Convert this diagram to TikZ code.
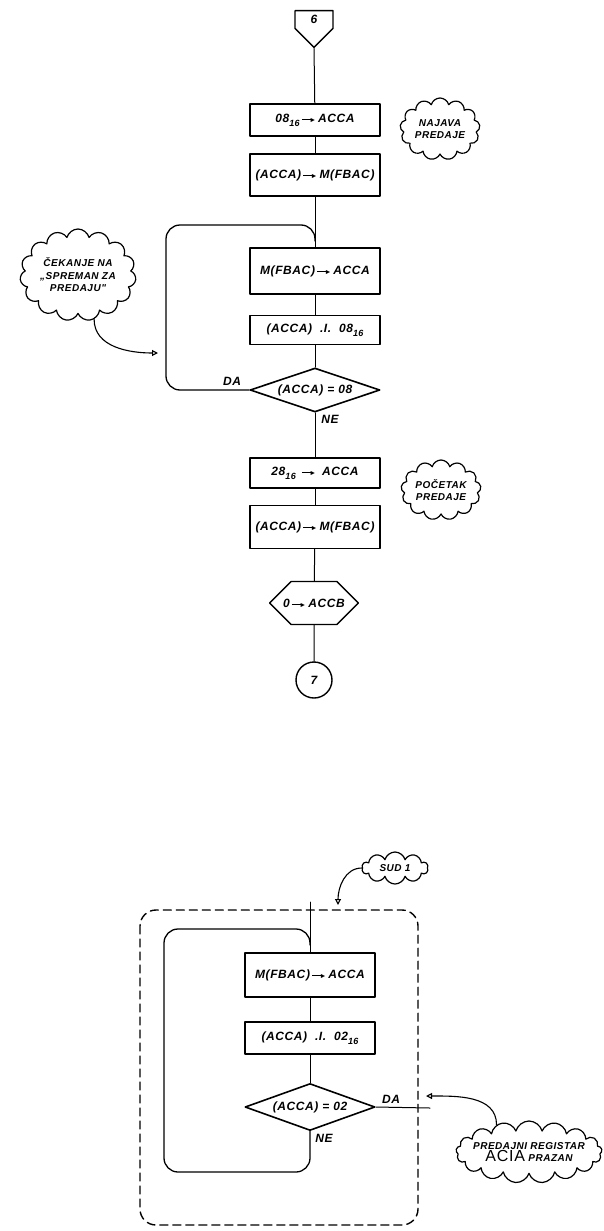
\documentclass[tikz,border=0pt]{standalone}
\usepackage{fontspec}
\setmainfont{Liberation Sans}
\newfontfamily\chartfont[LetterSpace=5]{Liberation Sans}
\usetikzlibrary{shapes.geometric,shapes.symbols,arrows.meta}
\newcommand{\hexsub}[1]{\raisebox{-4pt}{\fontsize{9}{9}\selectfont #1}}
\newcommand{\goesto}{\,\raisebox{0.33ex}{\rule{9pt}{1.1pt}}\kern-1.5pt{\fontsize{7}{7}\selectfont ►}\,}

\begin{document}
\begin{tikzpicture}[x=1pt,y=-1pt,line join=round,line cap=round,
    font=\chartfont\fontsize{12}{14}\selectfont\bfseries\itshape,
    box/.style={draw,line width=1.4pt,minimum width=130pt,inner sep=2pt},
    test/.style={draw,diamond,line width=1.6pt,minimum width=130pt,minimum height=44pt,aspect=3,inner sep=0pt},
    note/.style={draw,cloud,cloud ignores aspect,cloud puffs=13,line width=1.2pt,inner sep=0pt,align=center,
      font=\chartfont\fontsize{10}{12.5}\selectfont\bfseries\itshape},
    flow/.style={line width=1pt},
    back/.style={line width=1.3pt,rounded corners=14pt},
    hint/.style={line width=1.1pt,-{Triangle[open,length=6pt,width=6pt]}},
    frame/.style={dash pattern=on 8pt off 5pt,line width=1.4pt,rounded corners=16pt}]

  % Page
  \useasboundingbox (0,0) rectangle (603,1231);

  % Upper chart: connector, boxes, decision
  \node[draw,signal,signal to=south,signal from=nowhere,line width=1.4pt,
    minimum width=38pt,minimum height=21pt,inner sep=0pt,anchor=north] (c6) at (314,10) {6};
  \node[box,minimum height=32pt] (b1) at (315,120) {08\hexsub{16}\goesto ACCA};
  \node[box,minimum height=42pt] (b2) at (315,175) {(ACCA)\goesto M(FBAC)};
  \node[box,minimum height=46pt] (b3) at (315,271) {M(FBAC)\goesto ACCA};
  \node[box,minimum height=29pt] (b4) at (315,330) {(ACCA)\ \ .I.\ \ 08\hexsub{16}};
  \node[test] (d1) at (315,390) {(ACCA) = 08};
  \node[box,minimum height=30pt] (b5) at (315,473) {28\hexsub{16}\ \goesto\ ACCA};
  \node[box,minimum height=43pt] (b6) at (315,527) {(ACCA)\goesto M(FBAC)};
  \node[draw,signal,signal to=west and east,line width=1.4pt,
    minimum width=88pt,minimum height=43pt,inner xsep=-8pt,inner ysep=0pt] (h1) at (314,603) {0\goesto ACCB};
  \node[draw,circle,line width=1.4pt,minimum size=36pt,inner sep=0pt] (c7) at (314,680) {7};

  % Branch labels
  \node (da1) at (232,381) {DA};
  \node (ne1) at (330,419) {NE};

  % Notes
  \node[note,inner sep=-3pt,minimum width=80pt,minimum height=62pt] (n1) at (440,129) {NAJAVA\\PREDAJE};
  \node[note,cloud puffs=15,inner sep=-6pt,minimum width=116pt,minimum height=92pt] (n2) at (78,275) {ČEKANJE NA\\„SPREMAN ZA\\PREDAJU"};
  \node[note,inner sep=-3pt,minimum width=80pt,minimum height=60pt] (n3) at (441,490) {POČETAK\\PREDAJE};

  % Flow lines
  \coordinate (j1) at (315,225);
  \coordinate (l1) at (166,225);
  \coordinate (t1) at (158,353);
  \draw[flow] (c6.south) -- (b1);
  \draw[flow] (b1) -- (b2);
  \draw[flow] (b2) -- (b3);
  \draw[flow] (b3) -- (b4);
  \draw[flow] (b4) -- (d1);
  \draw[flow] (d1) -- (b5);
  \draw[flow] (b5) -- (b6);
  \draw[flow] (b6) -- (h1);
  \draw[flow] (h1) -- (c7);
  \draw[back] (d1.west) -| (l1) -- (j1) -- ++(0,16);
  \draw[hint] (n2.290) to[out=-90,in=180] (t1);

  % Lower chart: waiting loop
  \coordinate (top2) at (310,902);
  \node[box,minimum height=44pt] (b7) at (310,975) {M(FBAC)\goesto ACCA};
  \node[box,minimum height=32pt] (b8) at (310,1038) {(ACCA)\ \ .I.\ \ 02\hexsub{16}};
  \node[test,minimum height=47pt] (d2) at (310,1107) {(ACCA) = 02};
  \node (da2) at (391,1099) {DA};
  \node (ne2) at (324,1138) {NE};

  \node[note,cloud puffs=10,minimum width=66pt,minimum height=32pt] (n4) at (395,868) {SUD 1};
  \node[note,cloud puffs=17,inner sep=-6pt,minimum width=146pt,minimum height=62pt] (n5) at (529,1152)
    {PREDAJNI REGISTAR\\{\fontsize{16}{16}\selectfont\mdseries\upshape ACIA} PRAZAN};

  \coordinate (j2) at (310,929);
  \coordinate (l2) at (164,929);
  \coordinate (r2) at (310,1172);
  \coordinate (e2) at (430,1108);
  \coordinate (t2) at (338,905);
  \coordinate (t3) at (426,1096);
  \draw[flow] (top2) -- (b7);
  \draw[flow] (b7) -- (b8);
  \draw[flow] (b8) -- (d2);
  \draw[flow] (d2.east) -- (e2);
  \draw[back] (d2.south) -- (r2) -| (l2) -- (j2) -- ++(0,16);
  \draw[hint] (n4.west) to[out=180,in=90] (t2);
  \draw[hint] (n5.140) to[out=90,in=0] (t3);

  % Subroutine frame
  \draw[frame] (140,910) rectangle (418,1225);
\end{tikzpicture}
\end{document}
